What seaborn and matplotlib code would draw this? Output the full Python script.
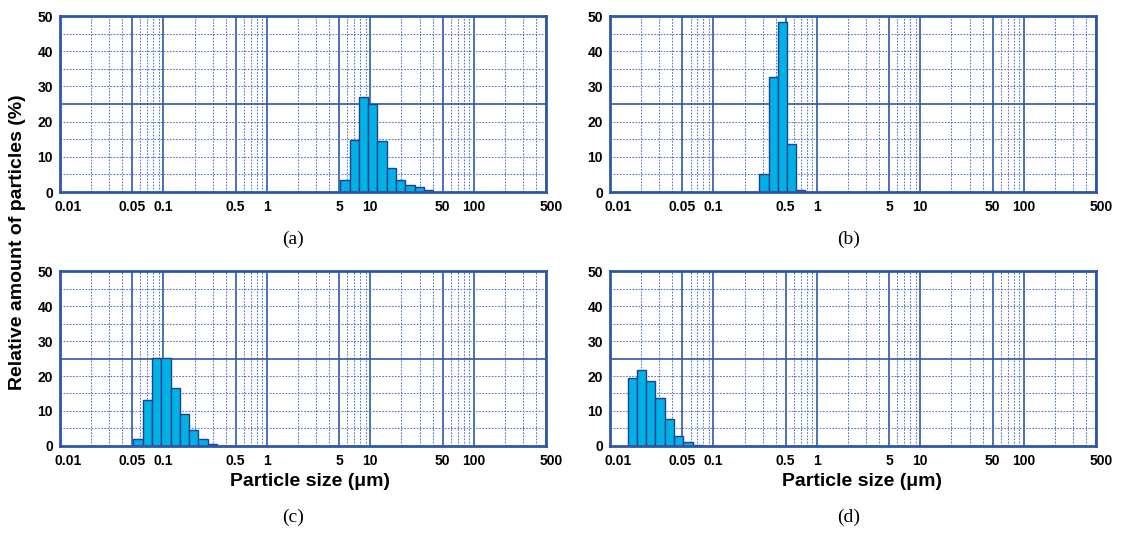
import numpy as np
import pandas as pd
import matplotlib
matplotlib.use("Agg")
import matplotlib.pyplot as plt
import matplotlib.transforms as mtransforms
import seaborn as sns

# bin edges (um) and relative amount (%)
a_edges = [5.1, 6.3, 7.7, 9.5, 11.7, 14.4, 17.8, 21.8, 26.9, 33.1, 40.8]
a_vals = [3.3, 14.9, 26.9, 24.9, 14.6, 6.7, 3.3, 1.9, 1.3, 0.7]
b_edges = [0.274, 0.342, 0.418, 0.510, 0.629, 0.774]
b_vals = [5.0, 32.7, 48.2, 13.6, 0.7]
c_edges = [0.0513, 0.0635, 0.078, 0.0957, 0.1174, 0.1444, 0.177, 0.217, 0.267, 0.328]
c_vals = [1.9, 13.2, 25.2, 25.2, 16.5, 9.0, 4.5, 1.9, 0.7]
d_edges = [0.0148, 0.0182, 0.0224, 0.0275, 0.0339, 0.0417, 0.0513, 0.0631, 0.0776]
d_vals = [19.4, 21.6, 18.5, 13.6, 7.8, 2.9, 1.0, 0.3]

x_ticks = [0.01, 0.05, 0.1, 0.5, 1, 5, 10, 50, 100, 500]
x_ticklabels = ["0.01", "0.05", "0.1", "0.5", "1", "5", "10", "50", "100", "500"]
y_ticks = [0, 10, 20, 30, 40, 50]
panel_labels = ["(a)", "(b)", "(c)", "(d)"]

BORDER = "#2E57A6"
DOT = "#5575D2"
BAR = "#00B2E3"
EDGE = "#1E3F96"

sns.set_theme(style="white")
plt.rcParams["font.family"] = ["Liberation Sans", "DejaVu Sans"]
plt.rcParams["font.weight"] = "bold"
plt.rcParams["text.color"] = "black"

fig = plt.figure(figsize=(11.23, 5.34), dpi=100)

positions = [
    [0.0534, 0.6404, 0.4328, 0.3296],
    [0.5432, 0.6404, 0.4328, 0.3296],
    [0.0534, 0.1648, 0.4328, 0.3277],
    [0.5432, 0.1648, 0.4328, 0.3277],
]
data = [(a_edges, a_vals), (b_edges, b_vals), (c_edges, c_vals), (d_edges, d_vals)]

minor_x = [m * 10.0 ** k for k in range(-2, 2) for m in (2, 3, 4, 6, 7, 8, 9)] + [200, 300, 400]


def draw_panel(ax, edges, vals):
    edges = np.array(edges)
    centers = np.sqrt(edges[:-1] * edges[1:])
    df = pd.DataFrame({"size": centers, "amount": vals})
    log_bins = [float(e) for e in np.log10(edges)]
    sns.histplot(data=df, x="size", weights="amount", bins=log_bins,
                 log_scale=True, stat="count", color=BAR, edgecolor=EDGE,
                 linewidth=1.0, alpha=1, ax=ax, zorder=3)

    ax.set_xlim(0.01, 500)
    ax.set_ylim(0, 50)
    ax.set_xticks(x_ticks)
    ax.set_xticklabels(x_ticklabels)
    ax.set_xticks(minor_x, minor=True)
    ax.set_yticks(y_ticks)
    ax.set_yticks([5, 15, 35, 45], minor=True)
    ax.set_xlabel("")
    ax.set_ylabel("")

    ax.xaxis.grid(True, which="major", color=BORDER, lw=1.2, ls="-", zorder=1)
    ax.xaxis.grid(True, which="minor", color=DOT, lw=0.75, ls=(0, (1.6, 1.4)), zorder=1)
    ax.yaxis.grid(True, which="both", color=DOT, lw=0.75, ls=(0, (1.6, 1.4)), zorder=1)
    ax.axhline(25, color=BORDER, lw=1.2, zorder=2)
    ax.set_axisbelow(True)

    ax.tick_params(which="both", length=0, labelsize=10, colors="black")
    ax.tick_params(axis="x", pad=6)
    ax.tick_params(axis="y", pad=5)
    for lab in ax.get_xticklabels() + ax.get_yticklabels():
        lab.set_fontweight("bold")
    for sp in ax.spines.values():
        sp.set_color(BORDER)
        sp.set_linewidth(2.0)
        sp.set_visible(True)
        sp.set_zorder(5)

    labels = ax.get_xticklabels()
    shift = mtransforms.ScaledTranslation(6 / 72, 0, fig.dpi_scale_trans)
    labels[0].set_transform(labels[0].get_transform() + shift)
    shift2 = mtransforms.ScaledTranslation(4 / 72, 0, fig.dpi_scale_trans)
    labels[-1].set_transform(labels[-1].get_transform() + shift2)


for pos, (edges, vals) in zip(positions, data):
    ax = fig.add_axes(pos)
    draw_panel(ax, edges, vals)

cap_x = [0.261, 0.756, 0.261, 0.756]
cap_y = [0.551, 0.551, 0.032, 0.032]
for lab, x, y in zip(panel_labels, cap_x, cap_y):
    fig.text(x, y, lab, ha="center", va="center", fontsize=14,
             family=["Liberation Serif", "DejaVu Serif"], fontweight="normal")

for x in (0.276, 0.768):
    fig.text(x, 0.099, "Particle size (μm)", ha="center", va="center",
             fontsize=14, fontweight="bold")

fig.text(0.016, 0.547, "Relative amount of particles (%)", rotation=90,
         ha="center", va="center", fontsize=14, fontweight="bold")

fig.savefig("out.png", dpi=100)
